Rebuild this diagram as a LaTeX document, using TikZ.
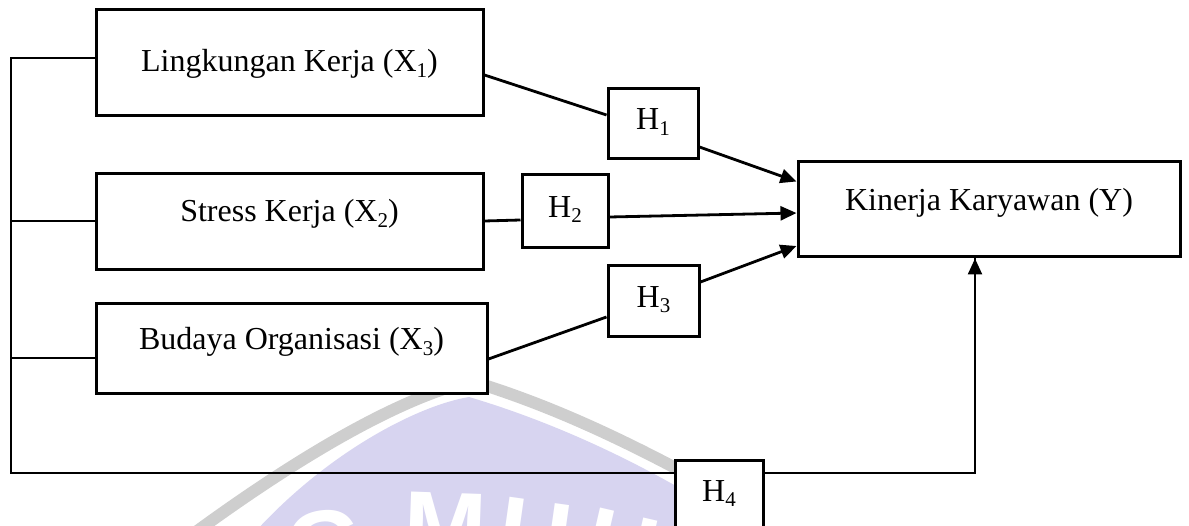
\documentclass[tikz,border=0pt]{standalone}
\usepackage{fontspec}
\setmainfont{Liberation Serif}
\setsansfont{Liberation Sans}
\usetikzlibrary{arrows.meta}
\definecolor{lav}{RGB}{215,212,240}
\definecolor{wgrey}{RGB}{206,206,206}
% subscript index, set smaller and slightly lowered
\newcommand{\lowidx}[1]{\raisebox{-0.16em}{\fontsize{21}{21}\selectfont #1}}
\begin{document}
\begin{tikzpicture}[x=1pt,y=-1pt,
  blk/.style={draw, line width=3pt, fill=white, inner sep=0pt,
    font=\fontsize{32}{38}\selectfont},
  hyp/.style={blk, text height=22pt, text depth=10pt},
  link/.style={line width=2.8pt},
  arr/.style={line width=2.8pt, -{Triangle[length=16pt,width=14pt]}},
  rail/.style={line width=1.4pt},
  logoband/.style={draw=wgrey, line width=12pt},
  logoletter/.style={text=white, inner sep=0pt, anchor=base,
    font=\sffamily\bfseries\fontsize{100}{100}\selectfont}
]
\useasboundingbox (0,0) rectangle (1189,526);
\clip (0,0) rectangle (1189,526);

% faint logo in the background
\begin{scope}
  \clip (0,330) rectangle (676,526);
  \fill[lav] (255,532) .. controls (330,450) and (420,405) .. (469,397)
    .. controls (540,418) and (620,452) .. (700,500) -- (700,532) -- cycle;
  \draw[logoband] (185,540) .. controls (300,455) and (400,398) .. (471,381)
    .. controls (560,408) and (640,448) .. (720,492);
  \node[logoletter, rotate=8] (lg) at (330,580) {G};
  \node[logoletter, rotate=-2] (lm) at (444,562) {M};
  \node[logoletter, rotate=-8] (lu) at (530,570) {U};
  \node[logoletter, rotate=-13] (lh) at (614,582) {H};
\end{scope}

% variables
\node[blk, minimum width=387pt, minimum height=106pt, text height=24pt, text depth=6pt]
  (x1) at (289.5,63) {Lingkungan Kerja (X\lowidx{1})};
\node[blk, minimum width=387pt, minimum height=96pt, text height=24pt, text depth=24pt]
  (x2) at (289.5,222) {Stress Kerja (X\lowidx{2})};
\node[blk, minimum width=391pt, minimum height=90pt, text height=24pt, text depth=22pt]
  (x3) at (291.5,349) {Budaya Organisasi (X\lowidx{3})};
\node[blk, minimum width=382pt, minimum height=95pt, text height=24pt, text depth=21pt]
  (k) at (989,209.5) {Kinerja Karyawan (Y)};

% hypotheses
\node[hyp, minimum width=90pt, minimum height=70pt] (h1) at (653,124) {H\lowidx{1}};
\node[hyp, minimum width=86pt, minimum height=73pt] (h2) at (565,211.5) {H\lowidx{2}};
\node[hyp, minimum width=91pt, minimum height=71pt] (h3) at (653.5,301.5) {H\lowidx{3}};
\node[hyp, minimum width=88pt, minimum height=71pt] (h4) at (719,495.5) {H\lowidx{4}};

% left rail joining the three variables
\coordinate (corner) at (11,473);
\draw[rail] ([yshift=5pt]x1.west) -| (corner) -- ([yshift=22.5pt]h4.west);
\draw[rail] ([yshift=1pt]x2.west) -- ([yshift=1pt]x2.west -| corner);
\draw[rail] ([yshift=-9pt]x3.west) -- ([yshift=-9pt]x3.west -| corner);

% paths through the hypotheses
\draw[link] ([yshift=-12pt]x1.east) -- ([yshift=9pt]h1.west);
\draw[arr] ([yshift=-23pt]h1.east) -- ([yshift=28pt]k.west);
\draw[link] ([yshift=1pt]x2.east) -- ([yshift=-8.5pt]h2.west);
\draw[arr] ([yshift=-5.5pt]h2.east) -- ([yshift=-3.5pt]k.west);
\draw[link] ([yshift=-10pt]x3.east) -- ([yshift=-15.5pt]h3.west);
\draw[arr] ([yshift=19.5pt]h3.east) -- ([yshift=-36.5pt]k.west);
\draw[rail] ([yshift=22.5pt]h4.east) -| ([xshift=-14pt]k.south);
\draw[arr, line width=2.4pt] ([xshift=-14pt,yshift=-60pt]k.south) -- ([xshift=-14pt]k.south);
\end{tikzpicture}
\end{document}
